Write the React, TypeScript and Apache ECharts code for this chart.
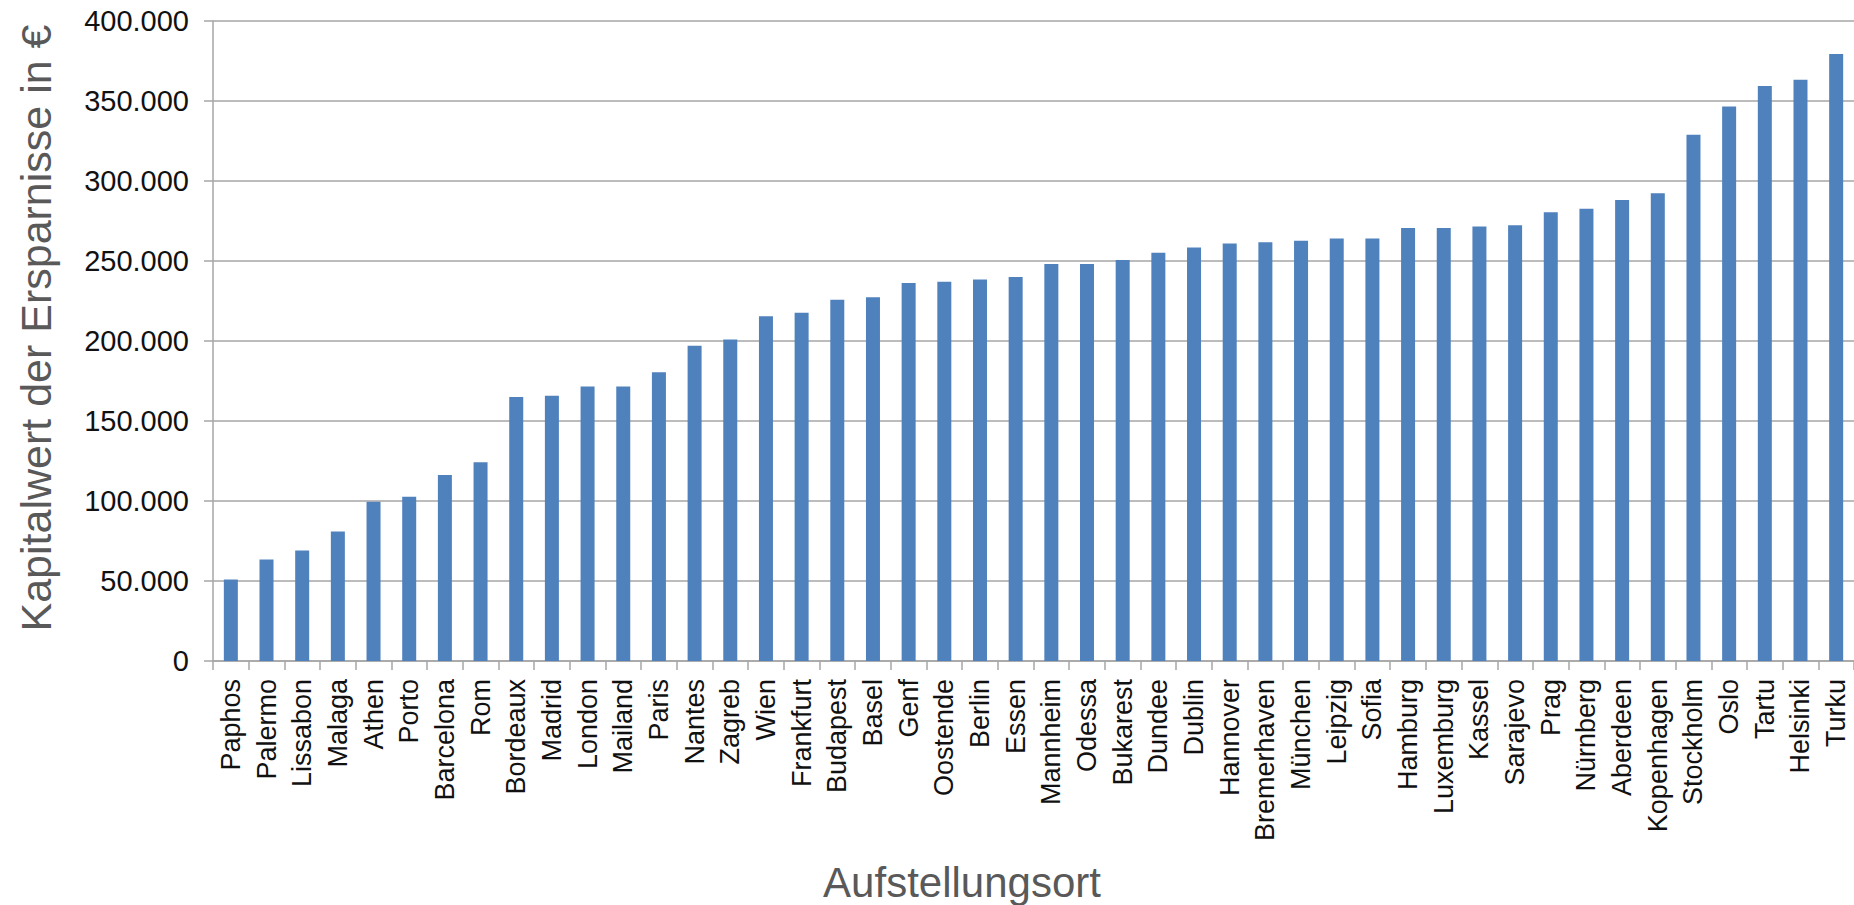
import React, { useEffect, useRef } from "react";
import * as echarts from "echarts";

const categories = [
  "Paphos", "Palermo", "Lissabon", "Malaga", "Athen", "Porto", "Barcelona", "Rom",
  "Bordeaux", "Madrid", "London", "Mailand", "Paris", "Nantes", "Zagreb", "Wien",
  "Frankfurt", "Budapest", "Basel", "Genf", "Oostende", "Berlin", "Essen", "Mannheim",
  "Odessa", "Bukarest", "Dundee", "Dublin", "Hannover", "Bremerhaven", "München", "Leipzig",
  "Sofia", "Hamburg", "Luxemburg", "Kassel", "Sarajevo", "Prag", "Nürnberg", "Aberdeen",
  "Kopenhagen", "Stockholm", "Oslo", "Tartu", "Helsinki", "Turku",
];

const values = [
  51000, 63500, 69000, 81000, 99600, 102700, 116200, 124200,
  165000, 165800, 171500, 171500, 180400, 197100, 201000, 215400,
  217700, 225800, 227300, 236300, 237100, 238500, 240000, 248100,
  248100, 250600, 255200, 258400, 260900, 261700, 262600, 264100,
  264100, 270600, 270600, 271500, 272300, 280400, 282700, 288100,
  292300, 328900, 346500, 359400, 363300, 379400,
];

const yTicks = { min: 0, max: 400000, interval: 50000 };
const yTitle = "Kapitalwert der Ersparnisse in €";
const xTitle = "Aufstellungsort";

const fmt = (v: number) =>
  v === 0 ? "0" : String(v).replace(/\B(?=(\d{3})+(?!\d))/g, ".");

export default function App() {
  const ref = useRef<HTMLDivElement>(null);
  useEffect(() => {
    if (!ref.current) return;
    const chart = echarts.init(ref.current, undefined, { renderer: "svg" });
    const font = "Liberation Sans, Arial, sans-serif";
    chart.setOption({
      animation: false,
      backgroundColor: "#ffffff",
      grid: { left: 213, right: -1, top: 21, bottom: 244, containLabel: false },
      xAxis: {
        type: "category",
        data: categories,
        boundaryGap: true,
        axisLine: { show: true, lineStyle: { color: "#a6a6a6", width: 1.5 } },
        axisTick: { show: true, length: 9, alignWithLabel: false, lineStyle: { color: "#a6a6a6", width: 1.5 } },
        axisLabel: {
          rotate: 90,
          interval: 0,
          margin: 18,
          fontSize: 27,
          color: "#111111",
          fontFamily: font,
        },
      },
      yAxis: {
        type: "value",
        min: yTicks.min,
        max: yTicks.max,
        interval: yTicks.interval,
        axisLine: { show: true, lineStyle: { color: "#a6a6a6", width: 1.5 } },
        axisTick: { show: true, length: 9, lineStyle: { color: "#a6a6a6", width: 1.5 } },
        splitLine: { show: true, lineStyle: { color: "#a6a6a6", width: 1.5 } },
        axisLabel: {
          formatter: fmt,
          fontSize: 29,
          margin: 24,
          color: "#111111",
          fontFamily: font,
        },
      },
      graphic: [
        {
          type: "text",
          x: 36,
          y: 328,
          rotation: Math.PI / 2,
          style: {
            text: yTitle,
            fontSize: 43,
            fontFamily: font,
            fill: "#595959",
            textAlign: "center",
            textVerticalAlign: "middle",
          },
        },
        {
          type: "text",
          x: 962,
          y: 882,
          style: {
            text: xTitle,
            fontSize: 42,
            fontFamily: font,
            fill: "#595959",
            textAlign: "center",
            textVerticalAlign: "middle",
          },
        },
      ],
      series: [
        {
          type: "bar",
          data: values,
          barWidth: 14,
          itemStyle: { color: "#4f81bd" },
        },
      ],
    });
    return () => chart.dispose();
  }, []);
  return (
    <div
      ref={ref}
      style={{ position: "fixed", left: 0, top: 0, width: 1854, height: 905 }}
    />
  );
}
